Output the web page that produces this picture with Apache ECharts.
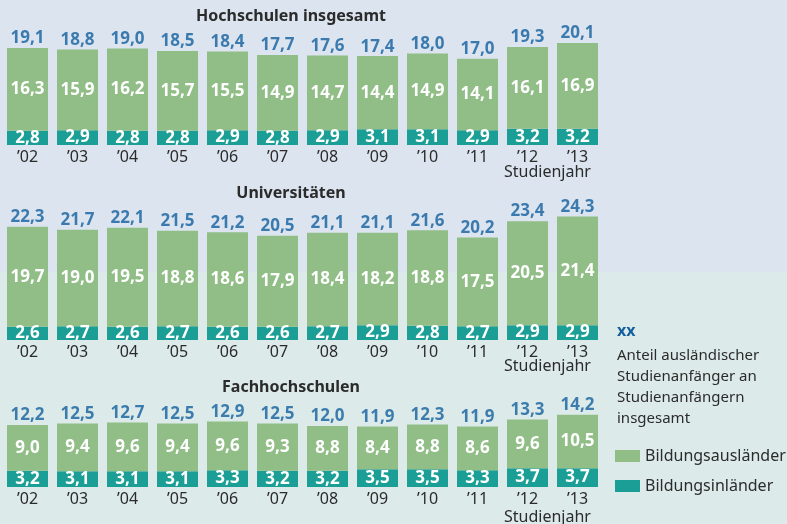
<!DOCTYPE html>
<html>
<head>
<meta charset="utf-8">
<script src="https://cdn.jsdelivr.net/npm/echarts@6/dist/echarts.min.js"></script>
<style>
  html, body { margin: 0; padding: 0; }
  #main { width: 787px; height: 524px; }
</style>
</head>
<body>
<div id="main"></div>
<script>
const years = ["’02", "’03", "’04", "’05", "’06", "’07", "’08", "’09", "’10", "’11", "’12", "’13"];

// Hochschulen insgesamt
const hsInlaender = [2.8, 2.9, 2.8, 2.8, 2.9, 2.8, 2.9, 3.1, 3.1, 2.9, 3.2, 3.2];
const hsAuslaender = [16.3, 15.9, 16.2, 15.7, 15.5, 14.9, 14.7, 14.4, 14.9, 14.1, 16.1, 16.9];
const hsTotal = [19.1, 18.8, 19.0, 18.5, 18.4, 17.7, 17.6, 17.4, 18.0, 17.0, 19.3, 20.1];

// Universitäten
const uniInlaender = [2.6, 2.7, 2.6, 2.7, 2.6, 2.6, 2.7, 2.9, 2.8, 2.7, 2.9, 2.9];
const uniAuslaender = [19.7, 19.0, 19.5, 18.8, 18.6, 17.9, 18.4, 18.2, 18.8, 17.5, 20.5, 21.4];
const uniTotal = [22.3, 21.7, 22.1, 21.5, 21.2, 20.5, 21.1, 21.1, 21.6, 20.2, 23.4, 24.3];

// Fachhochschulen
const fhInlaender = [3.2, 3.1, 3.1, 3.1, 3.3, 3.2, 3.2, 3.5, 3.5, 3.3, 3.7, 3.7];
const fhAuslaender = [9.0, 9.4, 9.6, 9.4, 9.6, 9.3, 8.8, 8.4, 8.8, 8.6, 9.6, 10.5];
const fhTotal = [12.2, 12.5, 12.7, 12.5, 12.9, 12.5, 12.0, 11.9, 12.3, 11.9, 13.3, 14.2];

const panels = [
  { title: "Hochschulen insgesamt", inl: hsInlaender, ausl: hsAuslaender, total: hsTotal },
  { title: "Universitäten", inl: uniInlaender, ausl: uniAuslaender, total: uniTotal },
  { title: "Fachhochschulen", inl: fhInlaender, ausl: fhAuslaender, total: fhTotal },
];

const FONT = "Noto Sans";
const GREEN = "#90be86";
const TEAL = "#1b9e95";
const BLUE = "#135f9d";
const TEXT = "#2b2b2b";

const gridTops = [18, 213, 360];
const titleTops = [8, 185, 379];
const studienjahrY = [164, 358, 509];

const fmt = (v) => v.toFixed(1).replace(".", ",");

let grids = [], xAxes = [], yAxes = [], series = [], titles = [], texts = [];

panels.forEach((p, i) => {
  grids.push({ left: 2.5, width: 600, top: gridTops[i], height: 127 });
  xAxes.push({
    type: "category",
    gridIndex: i,
    data: years,
    axisLine: { show: false },
    axisTick: { show: false },
    axisLabel: { color: TEXT, fontSize: 16, fontFamily: FONT, margin: 4 },
  });
  yAxes.push({ type: "value", gridIndex: i, min: 0, max: 25, show: false });

  series.push({
    name: "Bildungsinländer",
    type: "bar",
    stack: "s" + i,
    xAxisIndex: i,
    yAxisIndex: i,
    barWidth: 41,
    data: p.inl,
    itemStyle: { color: TEAL },
    label: {
      show: true,
      position: "inside",
      color: "#fff",
      fontSize: 17,
      fontWeight: "bold",
      fontFamily: FONT,
      formatter: (d) => fmt(d.value),
    },
  });
  series.push({
    name: "Bildungsausländer",
    type: "bar",
    stack: "s" + i,
    xAxisIndex: i,
    yAxisIndex: i,
    barWidth: 41,
    data: p.ausl,
    itemStyle: { color: GREEN },
    label: {
      show: true,
      position: "inside",
      color: "#fff",
      fontSize: 17,
      fontWeight: "bold",
      fontFamily: FONT,
      formatter: (d) => fmt(d.value),
    },
  });
  // totals drawn as labels above the stack
  series.push({
    type: "scatter",
    xAxisIndex: i,
    yAxisIndex: i,
    symbolSize: 0,
    data: p.total,
    label: {
      show: true,
      position: "top",
      distance: 1,
      color: BLUE,
      fontSize: 17,
      fontWeight: "bold",
      fontFamily: FONT,
      formatter: (d) => fmt(d.value),
    },
  });

  titles.push({
    text: p.title,
    left: 291,
    top: titleTops[i],
    textAlign: "center",
    padding: 0,
    textStyle: { color: TEXT, fontSize: 16, fontWeight: "bold", fontFamily: FONT },
  });
  texts.push({
    type: "text",
    left: 504,
    top: studienjahrY[i],
    style: { text: "Studienjahr", fill: TEXT, fontSize: 16, fontFamily: FONT },
  });
});

const noteLines = ["Anteil ausländischer", "Studienanfänger an", "Studienanfängern", "insgesamt"];

let option = {
  animation: false,
  title: titles,
  grid: grids,
  xAxis: xAxes,
  yAxis: yAxes,
  legend: {
    data: ["Bildungsausländer", "Bildungsinländer"],
    orient: "vertical",
    left: 615,
    top: 448,
    padding: 0,
    itemWidth: 25,
    itemHeight: 12,
    itemGap: 14,
    icon: "rect",
    textStyle: { color: TEXT, fontSize: 16, fontFamily: FONT },
  },
  graphic: [
    { type: "rect", z: -10, shape: { x: 0, y: 0, width: 787, height: 272 }, style: { fill: "#dbe4ef" } },
    { type: "rect", z: -10, shape: { x: 0, y: 272, width: 787, height: 252 }, style: { fill: "#dcebe9" } },
    {
      type: "text",
      left: 617,
      top: 323,
      style: { text: "xx", fill: BLUE, fontSize: 16, fontWeight: "bold", fontFamily: FONT },
    },
    {
      type: "text",
      left: 617,
      top: 345,
      style: { text: noteLines.join("\n"), fill: TEXT, fontSize: 15, lineHeight: 21, fontFamily: FONT },
    },
  ].concat(texts),
  series: series,
};

var myChart = echarts.init(document.getElementById("main"));
myChart.setOption(option);
</script>
</body>
</html>
